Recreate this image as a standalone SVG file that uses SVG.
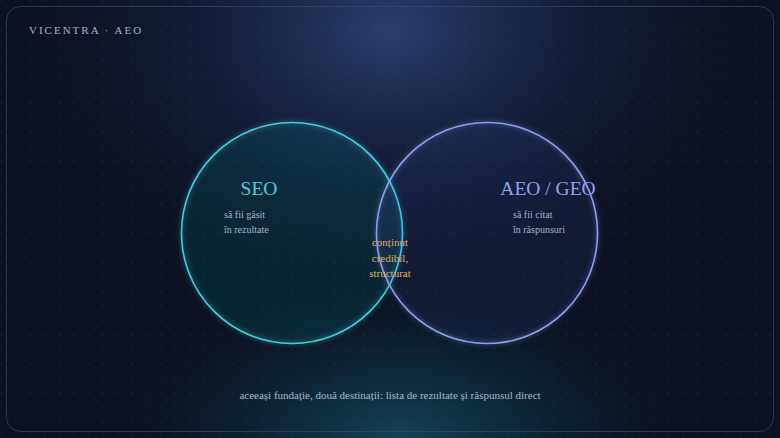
<svg xmlns="http://www.w3.org/2000/svg" width="780" height="438" viewBox="0 0 780 438">
<defs>
<radialGradient id="topGlow" cx="390" cy="30" r="400" gradientUnits="userSpaceOnUse" gradientTransform="translate(390 30) scale(1 0.7) translate(-390 -30)">
<stop offset="0" stop-color="#2c3d6e"/>
<stop offset="0.4" stop-color="#1b2749" stop-opacity="0.75"/>
<stop offset="1" stop-color="#0b1120" stop-opacity="0"/>
</radialGradient>
<radialGradient id="botGlow" cx="400" cy="438" r="300" gradientUnits="userSpaceOnUse" gradientTransform="translate(400 438) scale(1 0.55) translate(-400 -438)">
<stop offset="0" stop-color="#124456"/>
<stop offset="0.5" stop-color="#0e2f40" stop-opacity="0.6"/>
<stop offset="1" stop-color="#0b1120" stop-opacity="0"/>
</radialGradient>
<pattern id="dots" x="0.5" y="0.5" width="14.5" height="14.5" patternUnits="userSpaceOnUse">
<circle cx="1" cy="1" r="0.8" fill="#3a4a6a" fill-opacity="0.45"/>
</pattern>
<filter id="glow" x="-20%" y="-20%" width="140%" height="140%">
<feGaussianBlur stdDeviation="2.5" result="b"/>
<feComponentTransfer in="b" result="c"><feFuncA type="linear" slope="0.6"/></feComponentTransfer>
<feMerge><feMergeNode in="c"/><feMergeNode in="SourceGraphic"/></feMerge>
</filter>
<style>
.t{font-family:"Liberation Serif","DejaVu Serif",serif;}
.head{font-size:19.5px;text-anchor:middle;}
.sub{font-size:10px;fill:#a7b3c6;}
.mid{font-size:11px;fill:#dcae6c;text-anchor:middle;}
</style>
</defs>
<rect width="780" height="438" fill="#0b1120"/>
<rect width="780" height="438" fill="url(#topGlow)"/>
<rect width="780" height="438" fill="url(#botGlow)"/>
<rect width="780" height="438" fill="url(#dots)"/>
<rect x="6.5" y="6.5" width="767" height="425" rx="14" fill="none" stroke="#3a4868" stroke-opacity="0.7" stroke-width="1"/>
<text class="t" x="29" y="34" font-size="11" fill="#a9b1c2" letter-spacing="2">VICENTRA · AEO</text>
<g id="connectors"></g>
<g id="seo">
<circle cx="292" cy="233" r="110.5" fill="#1a8fa0" fill-opacity="0.1" stroke="#3ccfe0" stroke-width="1.6" filter="url(#glow)"/>
<text class="t head" x="259" y="195" fill="#4ccbdd">SEO</text>
<text class="t sub" x="224" y="218">să fii găsit</text>
<text class="t sub" x="224" y="233">în rezultate</text>
</g>
<g id="aeo">
<circle cx="487" cy="233" r="110.5" fill="#4a5cc0" fill-opacity="0.07" stroke="#8b9ef2" stroke-width="1.6" filter="url(#glow)"/>
<text class="t head" x="548" y="195" fill="#8ea2ef">AEO / GEO</text>
<text class="t sub" x="513" y="218">să fii citat</text>
<text class="t sub" x="513" y="233">în răspunsuri</text>
</g>
<g id="overlap">
<text class="t mid" x="390" y="246">conținut</text>
<text class="t mid" x="390" y="262">credibil,</text>
<text class="t mid" x="390" y="277">structurat</text>
</g>
<text class="t" x="390" y="399" font-size="11" fill="#a9b8c8" text-anchor="middle">aceeași fundație, două destinații: lista de rezultate și răspunsul direct</text>
</svg>
